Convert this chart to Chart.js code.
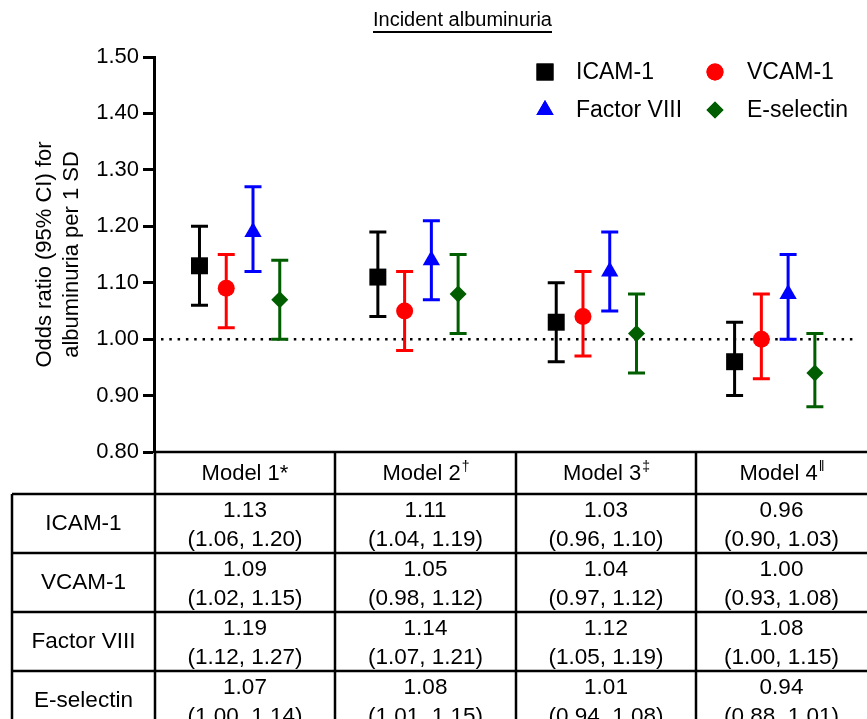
<!DOCTYPE html>
<html><head><meta charset="utf-8">
<script src="https://cdn.jsdelivr.net/npm/chart.js@4.4.1/dist/chart.umd.min.js"></script>
<style>
html,body{margin:0;padding:0;background:#fff;}
canvas{display:block;}
</style></head><body>
<canvas id="c" width="867" height="719"></canvas>
<script>
// ---- data ----
const modelNames = ['Model 1', 'Model 2', 'Model 3', 'Model 4'];
const modelMarks = ['*', '†', '‡', 'ǁ'];
const seriesNames = ['ICAM-1', 'VCAM-1', 'Factor VIII', 'E-selectin'];
const icamOR = [1.13, 1.11, 1.03, 0.96];
const icamLo = [1.06, 1.04, 0.96, 0.90];
const icamHi = [1.20, 1.19, 1.10, 1.03];
const vcamOR = [1.09, 1.05, 1.04, 1.00];
const vcamLo = [1.02, 0.98, 0.97, 0.93];
const vcamHi = [1.15, 1.12, 1.12, 1.08];
const f8OR = [1.19, 1.14, 1.12, 1.08];
const f8Lo = [1.12, 1.07, 1.05, 1.00];
const f8Hi = [1.27, 1.21, 1.19, 1.15];
const eselOR = [1.07, 1.08, 1.01, 0.94];
const eselLo = [1.00, 1.01, 0.94, 0.88];
const eselHi = [1.14, 1.15, 1.08, 1.01];
const yTickValues = [0.80, 0.90, 1.00, 1.10, 1.20, 1.30, 1.40, 1.50];
const referenceOR = 1.00;

// ---- styling ----
const FONT = '"Liberation Sans", Arial, Helvetica, sans-serif';
const seriesColors = ['#000000', '#ff0000', '#0000ff', '#005e00'];
const seriesStyles = ['rect', 'circle', 'triangle', 'rectRot'];
const seriesRadius = [12, 8.5, 10, 8.5];
const seriesShift = [-0.225, -0.075, 0.075, 0.225];

const ors = [icamOR, vcamOR, f8OR, eselOR];
const los = [icamLo, vcamLo, f8Lo, eselLo];
const his = [icamHi, vcamHi, f8Hi, eselHi];

const datasets = seriesNames.map((name, s) => ({
  label: name,
  data: ors[s].map((v, i) => ({x: i + seriesShift[s], y: v})),
  lo: los[s], hi: his[s],
  backgroundColor: seriesColors[s],
  borderColor: seriesColors[s],
  pointStyle: seriesStyles[s],
  pointRadius: seriesRadius[s],
  pointHoverRadius: seriesRadius[s],
  borderWidth: 0,
  showLine: false
}));

const errorBars = {
  id: 'errorBars',
  beforeDatasetsDraw(chart) {
    const ctx = chart.ctx, y = chart.scales.y;
    ctx.save();
    ctx.lineWidth = 3;
    chart.data.datasets.forEach((ds, di) => {
      const meta = chart.getDatasetMeta(di);
      ctx.strokeStyle = ds.borderColor;
      meta.data.forEach((pt, i) => {
        const yl = y.getPixelForValue(ds.lo[i]);
        const yh = y.getPixelForValue(ds.hi[i]);
        ctx.beginPath();
        ctx.moveTo(pt.x, yl); ctx.lineTo(pt.x, yh);
        ctx.moveTo(pt.x - 8.5, yl); ctx.lineTo(pt.x + 8.5, yl);
        ctx.moveTo(pt.x - 8.5, yh); ctx.lineTo(pt.x + 8.5, yh);
        ctx.stroke();
      });
    });
    ctx.restore();
  }
};

const refLine = {
  id: 'refLine',
  beforeDatasetsDraw(chart) {
    const ctx = chart.ctx, a = chart.chartArea;
    const yp = chart.scales.y.getPixelForValue(referenceOR);
    ctx.save();
    ctx.strokeStyle = '#000';
    ctx.lineWidth = 2.5;
    ctx.setLineDash([2.5, 5.8]);
    ctx.beginPath();
    ctx.moveTo(a.left + 7, yp); ctx.lineTo(a.right, yp);
    ctx.stroke();
    ctx.restore();
  }
};

const decor = {
  id: 'decor',
  afterDraw(chart) {
    const ctx = chart.ctx;
    ctx.save();
    // title
    ctx.fillStyle = '#000';
    ctx.font = '20px ' + FONT;
    ctx.textBaseline = 'middle';
    ctx.textAlign = 'left';
    const title = 'Incident albuminuria';
    const tw = ctx.measureText(title).width;
    const tx = 373, ty = 20;
    ctx.fillText(title, tx, ty);
    ctx.fillRect(tx, 31, tw, 2);

    // legend
    ctx.font = '23px ' + FONT;
    const lx = [545, 715], ly = [72, 110], ltx = [576, 747];
    seriesNames.forEach((name, s) => {
      const col = s % 2, row = Math.floor(s / 2);
      ctx.fillStyle = seriesColors[s];
      ctx.strokeStyle = seriesColors[s];
      Chart.helpers.drawPoint(ctx, {pointStyle: seriesStyles[s], radius: seriesRadius[s], borderWidth: 0, rotation: 0}, lx[col], ly[row]);
      ctx.fill();
      ctx.fillStyle = '#000';
      ctx.fillText(name, ltx[col], ly[row] + 1);
    });

    // table
    const colX = [12, 155, 335, 516, 696, 867];
    const rowY = [452, 494, 553, 612, 671, 730];
    ctx.strokeStyle = '#000';
    ctx.lineWidth = 2.5;
    ctx.beginPath();
    ctx.moveTo(colX[1], rowY[0]); ctx.lineTo(colX[5], rowY[0]);
    for (let r = 1; r < rowY.length - 1; r++) { ctx.moveTo(colX[0], rowY[r]); ctx.lineTo(colX[5], rowY[r]); }
    ctx.moveTo(colX[0], rowY[1]); ctx.lineTo(colX[0], 719);
    for (let c = 1; c < 5; c++) { ctx.moveTo(colX[c], rowY[0]); ctx.lineTo(colX[c], 719); }
    ctx.stroke();

    ctx.fillStyle = '#000';
    ctx.textAlign = 'left';
    modelNames.forEach((m, c) => {
      const cx = (colX[c + 1] + colX[c + 2]) / 2;
      const big = '22px ' + FONT, small = (c === 0 ? '22px ' : '14px ') + FONT;
      ctx.font = big; const w1 = ctx.measureText(m).width;
      ctx.font = small; const w2 = ctx.measureText(modelMarks[c]).width;
      const x0 = cx - (w1 + w2) / 2;
      ctx.font = big; ctx.fillText(m, x0, 474);
      ctx.font = small; ctx.fillText(modelMarks[c], x0 + w1 + (c === 0 ? 0 : 1), c === 0 ? 474 : 467);
    });
    ctx.textAlign = 'center';
    ctx.font = '22.5px ' + FONT;
    seriesNames.forEach((name, s) => {
      const top = rowY[s + 1], bot = rowY[s + 2];
      ctx.fillText(name, (colX[0] + colX[1]) / 2, (top + bot) / 2);
      for (let c = 0; c < 4; c++) {
        const cx = (colX[c + 1] + colX[c + 2]) / 2;
        ctx.fillText(ors[s][c].toFixed(2), cx, top + 17);
        ctx.fillText('(' + los[s][c].toFixed(2) + ', ' + his[s][c].toFixed(2) + ')', cx, top + 46);
      }
    });
    ctx.restore();
  }
};

new Chart(document.getElementById('c'), {
  type: 'scatter',
  data: {datasets},
  options: {
    responsive: false,
    animation: false,
    devicePixelRatio: 1,
    layout: {padding: {top: 57, bottom: 267, left: 0, right: 0}},
    plugins: {legend: {display: false}, tooltip: {enabled: false}, title: {display: false}},
    scales: {
      x: {type: 'linear', min: -0.48, max: 3.45, display: false},
      y: {
        min: 0.8, max: 1.5,
        afterBuildTicks(scale) { scale.ticks = yTickValues.map(v => ({value: v})); },
        afterFit(scale) { scale.width = 154; },
        ticks: {callback: v => Number(v).toFixed(2), color: '#000', font: {family: FONT, size: 22}, padding: 4},
        grid: {drawOnChartArea: false, drawTicks: true, tickLength: 11, tickWidth: 3, tickColor: '#000'},
        border: {display: true, width: 3, color: '#000'},
        title: {display: true, text: ['Odds ratio (95% CI) for', 'albuminuria per 1 SD'], color: '#000', font: {family: FONT, size: 22, lineHeight: 1.2}, padding: {top: 32, bottom: 0}}
      }
    }
  },
  plugins: [refLine, errorBars, decor]
});
</script>
</body></html>
